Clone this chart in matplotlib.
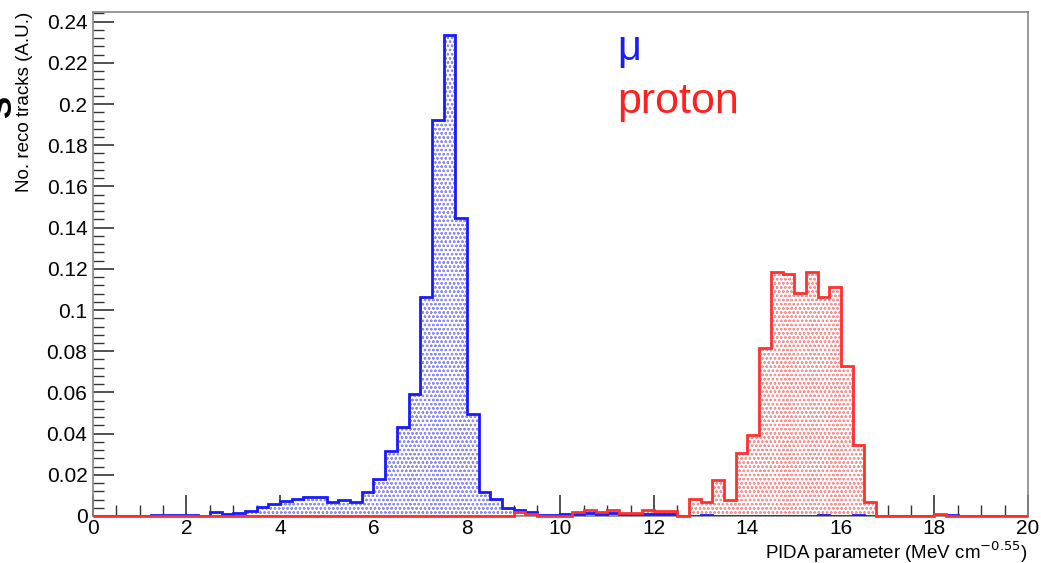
import numpy as np
import matplotlib
matplotlib.use("Agg")
import matplotlib.pyplot as plt
from matplotlib.ticker import MultipleLocator, FuncFormatter

plt.rcParams['font.family'] = ['Liberation Sans', 'DejaVu Sans']
plt.rcParams['hatch.linewidth'] = 0.6

# Histogram binning: 0..20 in steps of 0.25
bin_edges = np.linspace(0, 20, 81)

muon = [
    0, 0, 0, 0, 0, 0.0003, 0.0003, 0.0003, 0.0003, 0,            # 0.0 - 2.5
    0.002, 0.0009, 0.0013, 0.0025, 0.0045, 0.0058, 0.0074, 0.0082, 0.0094, 0.0093,  # 2.5 - 5.0
    0.0067, 0.0077, 0.0067, 0.0117, 0.018, 0.0317, 0.043, 0.059, 0.1065, 0.1922,    # 5.0 - 7.5
    0.2335, 0.1445, 0.0494, 0.0115, 0.0082, 0.0037, 0.003, 0.002, 0.0005, 0.0005,   # 7.5 - 10.0
    0.0012, 0.0008, 0.0015, 0.0008, 0.0015, 0.0008, 0.0008, 0.0012, 0.0008, 0.0008, # 10.0 - 12.5
    0, 0, 0.0003, 0, 0, 0, 0, 0, 0, 0,                             # 12.5 - 15.0
    0, 0, 0.0003, 0, 0, 0.0003, 0, 0, 0, 0,                        # 15.0 - 17.5
    0, 0, 0, 0.0003, 0, 0, 0, 0, 0, 0,                             # 17.5 - 20.0
]

proton = [
    0, 0, 0, 0, 0, 0, 0, 0, 0, 0,                                  # 0.0 - 2.5
    0, 0, 0, 0, 0, 0, 0, 0, 0, 0,                                  # 2.5 - 5.0
    0, 0, 0, 0, 0, 0, 0, 0, 0, 0,                                  # 5.0 - 7.5
    0, 0, 0, 0, 0, 0, 0.002, 0.001, 0, 0,                          # 7.5 - 10.0
    0, 0.002, 0.003, 0.002, 0.0027, 0.0015, 0.0015, 0.003, 0.0025, 0.0022,  # 10.0 - 12.5
    0, 0.0081, 0.007, 0.0175, 0.0078, 0.0304, 0.0393, 0.0814, 0.1186, 0.1175,  # 12.5 - 15.0
    0.1084, 0.1186, 0.1062, 0.1113, 0.0728, 0.0345, 0.0068, 0, 0, 0,          # 15.0 - 17.5
    0, 0, 0.0008, 0, 0, 0, 0, 0, 0, 0,                             # 17.5 - 20.0
]

x_ticks = [0, 2, 4, 6, 8, 10, 12, 14, 16, 18, 20]
y_ticks = [0, 0.02, 0.04, 0.06, 0.08, 0.1, 0.12, 0.14, 0.16, 0.18, 0.2, 0.22, 0.24]

fig = plt.figure(figsize=(10.41, 5.63), dpi=100)
ax = fig.add_axes([0.0893, 0.0835, 0.8982, 0.8952])

# muon: hatched fill + outline
ax.stairs(muon, bin_edges, fill=True, facecolor='white', edgecolor='#8c8cff',
          hatch='oooo', linewidth=0, zorder=2)
ax.stairs(muon, bin_edges, color='#1a1aff', linewidth=2.0, zorder=3)
# proton
ax.stairs(proton, bin_edges, fill=True, facecolor='white', edgecolor='#ff9090',
          hatch='oooo', linewidth=0, zorder=2)
ax.stairs(proton, bin_edges, color='#ff3030', linewidth=2.0, zorder=3,
          clip_on=False)

ax.set_xlim(0, 20)
ax.set_ylim(0, 0.2447)

ax.set_xticks(x_ticks)
ax.set_yticks(y_ticks)
ax.xaxis.set_minor_locator(MultipleLocator(0.5))
ax.yaxis.set_minor_locator(MultipleLocator(0.004))
ax.yaxis.set_major_formatter(FuncFormatter(lambda v, p: '%g' % v))
ax.xaxis.set_major_formatter(FuncFormatter(lambda v, p: '%g' % v))

ax.tick_params(which='both', direction='in', top=False, right=False,
               labelsize=15, color='#333333')
ax.tick_params(which='major', length=15, width=1.2, pad=4)
ax.tick_params(axis='x', which='major', pad=2)
ax.tick_params(which='minor', length=8, width=1.0)
for s in ax.spines.values():
    s.set_color('#888888')
    s.set_linewidth(1.2)

ax.set_ylabel('No. reco tracks (A.U.)', fontsize=13.5, loc='top')
ax.yaxis.set_label_coords(-0.064, 1.0)
ax.set_xlabel('PIDA parameter (MeV cm$^{-0.55}$)', fontsize=13.5, loc='right')
ax.xaxis.set_label_coords(1.0, -0.046)

ax.text(0.561, 0.905, '\u03bc', color='#1a1aff', fontsize=30, transform=ax.transAxes)
ax.text(0.561, 0.80, 'proton', color='#ff2020', fontsize=31, transform=ax.transAxes)

# partially cropped bold glyph at the left edge of the original figure
fig.text(-0.012, 0.81, 'S', fontsize=24, fontweight='bold', rotation=90,
         ha='left', va='center', color='black')

fig.savefig('out.png', dpi=100)
